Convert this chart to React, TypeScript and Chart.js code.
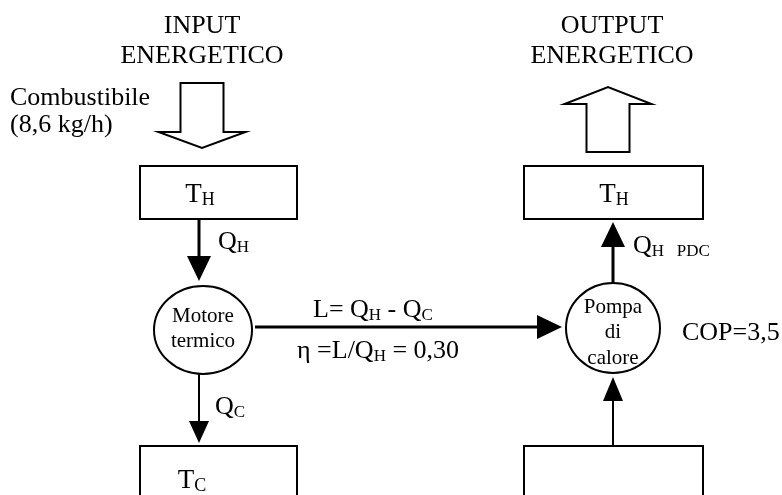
import { useEffect, useRef } from "react";
import { Chart, registerables } from "chart.js";

Chart.register(...registerables);

const SERIF = '"Liberation Serif", "Times New Roman", serif';

// ---- diagram content (diagram coordinates: x 0..782, y 0..495 downward) ----
const headerLines = ["INPUT", "ENERGETICO", "OUTPUT", "ENERGETICO"];
const headerX = [202, 202, 612, 612];
const headerY = [33, 63, 33, 63];

const fuelLines = ["Combustibile", "(8,6 kg/h)"];
const fuelX = [10, 10];
const fuelY = [105, 132];

// reservoirs (boxes)
const reservoirMain = ["T", "T", "T", ""];
const reservoirSub = ["H", "H", "C", ""];
const reservoirLeft = [140, 524, 140, 524];
const reservoirRight = [297, 703, 297, 703];
const reservoirTop = [166, 166, 446, 446];
const reservoirBottom = [219, 219, 540, 540];
const reservoirLabelX = [200, 614, 192, 613];
const reservoirLabelY = [202, 202, 488, 488];

// machines (ellipses)
const machineLines = [["Motore", "termico"], ["Pompa", "di", "calore"]];
const machineCx = [203, 613];
const machineCy = [330, 328];
const machineRx = [49, 47];
const machineRy = [44, 45];
const machineLineY = [[322, 347], [313, 338, 364]];

// hollow energy arrows (input / output)
const blockCx = [202, 608];
const blockTail = [83, 152];
const blockTip = [148, 87];
const blockHeadBase = [132, 104];
const blockShaftHalf = [21.5, 21.5];
const blockHeadHalf = [43.5, 43.5];

// solid flow arrows: Q_H, L, Q_H PDC, Q_C, Q from cold source
const flowFromX = [199, 255, 613, 199, 613];
const flowFromY = [219, 327, 283, 374, 446];
const flowToX = [199, 562, 613, 199, 613];
const flowToY = [281, 327, 222, 443, 377];
const flowWidth = [3, 3, 3, 2, 2];
const flowHeadLen = [25, 25, 25, 22, 24];
const flowHeadHalf = [12, 12, 12, 10, 10];

// flow labels (text parts, "_" prefix = subscript)
const flowLabelParts = [
  ["Q", "_H"],
  ["Q", "_H", "_   PDC"],
  ["Q", "_C"],
  ["L= Q", "_H", " - Q", "_C"],
  ["η =L/Q", "_H", " = 0,30"],
  ["COP=3,5"],
];
const flowLabelX = [218, 633, 215, 313, 297, 682];
const flowLabelY = [249, 253, 414, 317, 358, 340];

function drawRich(
  ctx: CanvasRenderingContext2D,
  parts: string[],
  x: number,
  y: number,
  size: number,
  align: "left" | "center"
) {
  const subSize = Math.round(size * 0.66);
  const mainFont = `${size}px ${SERIF}`;
  const subFont = `${subSize}px ${SERIF}`;
  const widths = parts.map((p) => {
    const sub = p.startsWith("_");
    ctx.font = sub ? subFont : mainFont;
    return ctx.measureText(sub ? p.slice(1) : p).width;
  });
  const total = widths.reduce((a, b) => a + b, 0);
  let cx = align === "center" ? x - total / 2 : x;
  ctx.textAlign = "left";
  ctx.textBaseline = "alphabetic";
  parts.forEach((p, i) => {
    const sub = p.startsWith("_");
    ctx.font = sub ? subFont : mainFont;
    ctx.fillText(sub ? p.slice(1) : p, cx, sub ? y + 3 : y);
    cx += widths[i];
  });
}

const diagramPlugin = {
  id: "diagram",
  afterDraw(chart: any) {
    const ctx: CanvasRenderingContext2D = chart.ctx;
    const xs = chart.scales.x;
    const ys = chart.scales.y;
    const X = (v: number) => xs.getPixelForValue(v);
    const Y = (v: number) => ys.getPixelForValue(v);
    const sx = (v: number) => Math.abs(xs.getPixelForValue(v) - xs.getPixelForValue(0));
    const sy = (v: number) => Math.abs(ys.getPixelForValue(v) - ys.getPixelForValue(0));

    ctx.save();
    ctx.fillStyle = "#000";
    ctx.strokeStyle = "#000";
    ctx.lineJoin = "miter";

    // headers
    ctx.font = `26px ${SERIF}`;
    ctx.textAlign = "center";
    ctx.textBaseline = "alphabetic";
    headerLines.forEach((t, i) => ctx.fillText(t, X(headerX[i]), Y(headerY[i])));

    // fuel label
    ctx.textAlign = "left";
    fuelLines.forEach((t, i) => ctx.fillText(t, X(fuelX[i]), Y(fuelY[i])));

    // hollow block arrows
    ctx.lineWidth = 2;
    blockCx.forEach((c, i) => {
      const s = blockShaftHalf[i];
      const h = blockHeadHalf[i];
      ctx.beginPath();
      ctx.moveTo(X(c - s), Y(blockTail[i]));
      ctx.lineTo(X(c + s), Y(blockTail[i]));
      ctx.lineTo(X(c + s), Y(blockHeadBase[i]));
      ctx.lineTo(X(c + h), Y(blockHeadBase[i]));
      ctx.lineTo(X(c), Y(blockTip[i]));
      ctx.lineTo(X(c - h), Y(blockHeadBase[i]));
      ctx.lineTo(X(c - s), Y(blockHeadBase[i]));
      ctx.closePath();
      ctx.stroke();
    });

    // reservoirs
    reservoirLeft.forEach((l, i) => {
      ctx.lineWidth = 2;
      ctx.strokeRect(
        X(l),
        Y(reservoirTop[i]),
        X(reservoirRight[i]) - X(l),
        Y(reservoirBottom[i]) - Y(reservoirTop[i])
      );
      if (reservoirMain[i]) {
        drawRich(ctx, [reservoirMain[i], "_" + reservoirSub[i]], X(reservoirLabelX[i]), Y(reservoirLabelY[i]), 27, "center");
      }
    });

    // machines
    machineCx.forEach((c, i) => {
      ctx.lineWidth = 2;
      ctx.beginPath();
      ctx.ellipse(X(c), Y(machineCy[i]), sx(machineRx[i]), sy(machineRy[i]), 0, 0, Math.PI * 2);
      ctx.stroke();
      ctx.font = `21px ${SERIF}`;
      ctx.textAlign = "center";
      machineLines[i].forEach((t, j) => ctx.fillText(t, X(c), Y(machineLineY[i][j])));
    });

    // solid flow arrows
    flowFromX.forEach((fx, i) => {
      const x0 = X(fx), y0 = Y(flowFromY[i]);
      const x1 = X(flowToX[i]), y1 = Y(flowToY[i]);
      const ang = Math.atan2(y1 - y0, x1 - x0);
      const L = flowHeadLen[i];
      const H = flowHeadHalf[i];
      const bx = x1 - Math.cos(ang) * L;
      const by = y1 - Math.sin(ang) * L;
      ctx.lineWidth = flowWidth[i];
      ctx.beginPath();
      ctx.moveTo(x0, y0);
      ctx.lineTo(bx + Math.cos(ang) * 2, by + Math.sin(ang) * 2);
      ctx.stroke();
      ctx.beginPath();
      ctx.moveTo(x1, y1);
      ctx.lineTo(bx - Math.sin(ang) * H, by + Math.cos(ang) * H);
      ctx.lineTo(bx + Math.sin(ang) * H, by - Math.cos(ang) * H);
      ctx.closePath();
      ctx.fill();
    });

    // flow labels
    flowLabelParts.forEach((parts, i) => {
      drawRich(ctx, parts, X(flowLabelX[i]), Y(flowLabelY[i]), 26, "left");
    });

    ctx.restore();
  },
};

export default function App() {
  const ref = useRef<HTMLCanvasElement | null>(null);
  useEffect(() => {
    if (!ref.current) return;
    const chart = new Chart(ref.current, {
      type: "scatter",
      data: { datasets: [{ data: [], showLine: false }] },
      options: {
        animation: false,
        responsive: false,
        devicePixelRatio: 1,
        layout: { padding: 0 },
        plugins: { legend: { display: false }, tooltip: { enabled: false } },
        scales: {
          x: { type: "linear", min: 0, max: 782, display: false },
          y: { type: "linear", min: 0, max: 495, reverse: true, display: false },
        },
      },
      plugins: [diagramPlugin],
    });
    return () => chart.destroy();
  }, []);
  return (
    <div style={{ position: "fixed", left: 0, top: 0, width: 782, height: 495, background: "#fff" }}>
      <canvas ref={ref} width={782} height={495} />
    </div>
  );
}
